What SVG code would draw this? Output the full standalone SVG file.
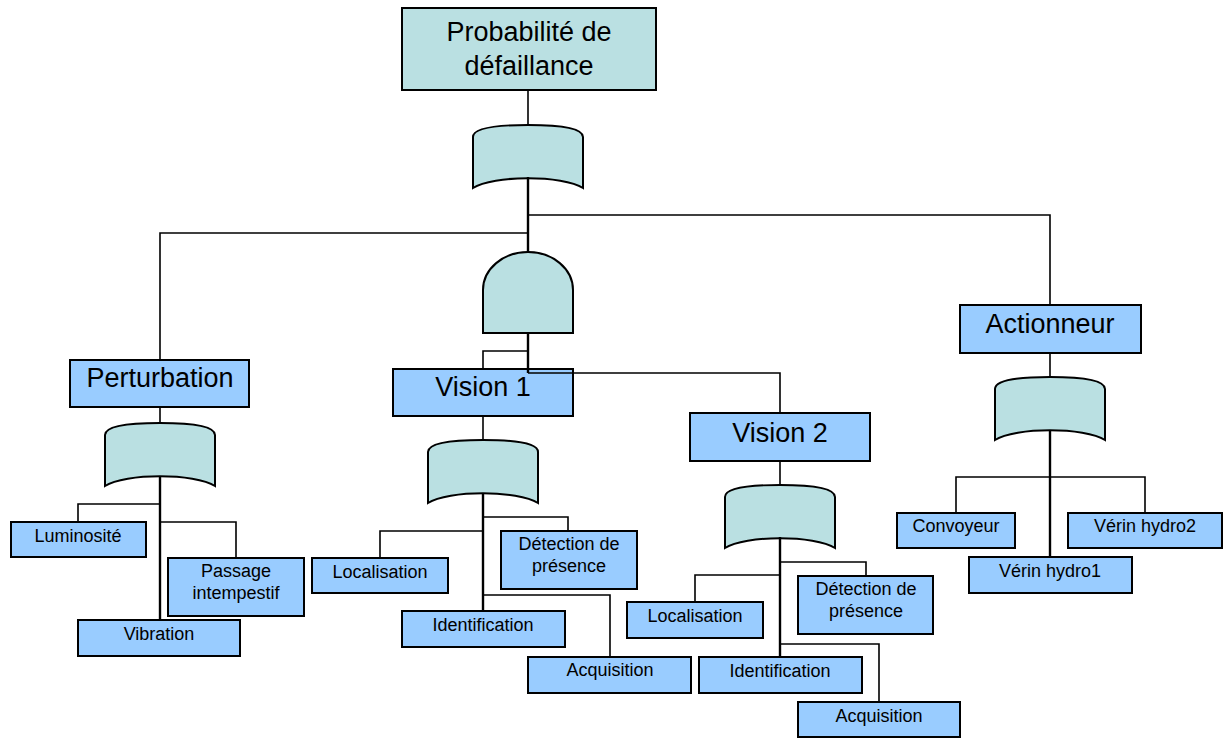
<svg xmlns="http://www.w3.org/2000/svg" width="1223" height="738" viewBox="0 0 1223 738">
<style>
.bg{fill:#ffffff}
.top{fill:#BAE0E2;stroke:#000;stroke-width:2}
.box{fill:#99CCFF;stroke:#000;stroke-width:2}
.gate{fill:#BAE0E2;stroke:#000;stroke-width:2}
.c{fill:none;stroke:#000;stroke-width:1.6}
.t{stroke-width:2.4}
text{font-family:"Liberation Sans",Arial,sans-serif;fill:#000;text-anchor:middle}
.L{font-size:27px}
.S{font-size:18px}
</style>
<defs>
<path id="orgate" d="M -55,63 V 12 C -55,3 -30,0 0,0 C 30,0 55,3 55,12 V 63 C 35,50 -35,50 -55,63 Z"/>
</defs>
<rect class="bg" x="0" y="0" width="1223" height="738"/>

<g id="top-event">
<rect class="top" x="402" y="8" width="254" height="82"/>
<text class="L" x="529" y="41">Probabilité de</text>
<text class="L" x="529" y="75">défaillance</text>
</g>

<g id="gate-or-top"><use href="#orgate" class="gate" transform="translate(528,125)"/></g>
<g id="gate-and"><path class="gate" d="M 483,333 V 290 A 45,38 0 0 1 573,290 V 333 Z"/></g>
<g id="gate-or-perturbation"><use href="#orgate" class="gate" transform="translate(160,423)"/></g>
<g id="gate-or-vision1"><use href="#orgate" class="gate" transform="translate(483,440)"/></g>
<g id="gate-or-vision2"><use href="#orgate" class="gate" transform="translate(780,485)"/></g>
<g id="gate-or-actionneur"><use href="#orgate" class="gate" transform="translate(1050,377)"/></g>

<g id="perturbation">
<rect class="box" x="70" y="360" width="179" height="47"/>
<text class="L" x="160" y="387">Perturbation</text>
</g>
<g id="luminosite">
<rect class="box" x="11" y="522" width="135" height="35"/>
<text class="S" x="78" y="542">Luminosité</text>
</g>
<g id="passage">
<rect class="box" x="168" y="558" width="136" height="58"/>
<text class="S" x="236" y="577">Passage</text>
<text class="S" x="236" y="599">intempestif</text>
</g>
<g id="vibration">
<rect class="box" x="78" y="620" width="162" height="36"/>
<text class="S" x="159" y="640">Vibration</text>
</g>

<g id="vision1">
<rect class="box" x="393" y="369" width="180" height="47"/>
<text class="L" x="483" y="396">Vision 1</text>
</g>
<g id="localisation1">
<rect class="box" x="312" y="558" width="136" height="35"/>
<text class="S" x="380" y="578">Localisation</text>
</g>
<g id="detection1">
<rect class="box" x="501" y="531" width="136" height="58"/>
<text class="S" x="569" y="550">Détection de</text>
<text class="S" x="569" y="572">présence</text>
</g>
<g id="identification1">
<rect class="box" x="402" y="611" width="163" height="36"/>
<text class="S" x="483" y="631">Identification</text>
</g>
<g id="acquisition1">
<rect class="box" x="528" y="657" width="163" height="36"/>
<text class="S" x="610" y="676">Acquisition</text>
</g>

<g id="vision2">
<rect class="box" x="690" y="413" width="180" height="48"/>
<text class="L" x="780" y="442">Vision 2</text>
</g>
<g id="localisation2">
<rect class="box" x="627" y="602" width="136" height="36"/>
<text class="S" x="695" y="622">Localisation</text>
</g>
<g id="detection2">
<rect class="box" x="798" y="576" width="135" height="58"/>
<text class="S" x="866" y="595">Détection de</text>
<text class="S" x="866" y="617">présence</text>
</g>
<g id="identification2">
<rect class="box" x="699" y="657" width="163" height="36"/>
<text class="S" x="780" y="677">Identification</text>
</g>
<g id="acquisition2">
<rect class="box" x="798" y="702" width="162" height="35"/>
<text class="S" x="879" y="722">Acquisition</text>
</g>

<g id="actionneur">
<rect class="box" x="960" y="305" width="181" height="48"/>
<text class="L" x="1050" y="333">Actionneur</text>
</g>
<g id="convoyeur">
<rect class="box" x="897" y="513" width="118" height="35"/>
<text class="S" x="956" y="532">Convoyeur</text>
</g>
<g id="verin2">
<rect class="box" x="1068" y="513" width="154" height="35"/>
<text class="S" x="1145" y="532">Vérin hydro2</text>
</g>
<g id="verin1">
<rect class="box" x="969" y="557" width="163" height="36"/>
<text class="S" x="1050" y="577">Vérin hydro1</text>
</g>

<g id="connectors">
<path class="c" d="M 528,90 V 125"/>
<path class="c t" d="M 528,177 V 252"/>
<path class="c" d="M 528,215 H 1050 V 305"/>
<path class="c" d="M 528,233 H 160 V 360"/>
<path class="c" d="M 160,407 V 423"/>
<path class="c t" d="M 528,333 V 373"/>
<path class="c" d="M 528,373 H 780 V 413"/>
<path class="c" d="M 528,351 H 483 V 369"/>
<path class="c" d="M 483,416 V 440"/>
<path class="c t" d="M 483,493 V 611"/>
<path class="c" d="M 483,517 H 568 V 531"/>
<path class="c" d="M 483,531 H 380 V 558"/>
<path class="c" d="M 483,595 H 610 V 657"/>
<path class="c t" d="M 160,476 V 620"/>
<path class="c" d="M 160,504 H 78 V 522"/>
<path class="c" d="M 160,522 H 236 V 558"/>
<path class="c" d="M 780,461 V 485"/>
<path class="c t" d="M 780,537 V 657"/>
<path class="c" d="M 780,562 H 866 V 576"/>
<path class="c" d="M 780,575 H 695 V 602"/>
<path class="c" d="M 780,644 H 879 V 702"/>
<path class="c" d="M 1050,353 V 377"/>
<path class="c t" d="M 1050,430 V 557"/>
<path class="c" d="M 956,513 V 477 H 1145 V 513"/>
</g>
</svg>
